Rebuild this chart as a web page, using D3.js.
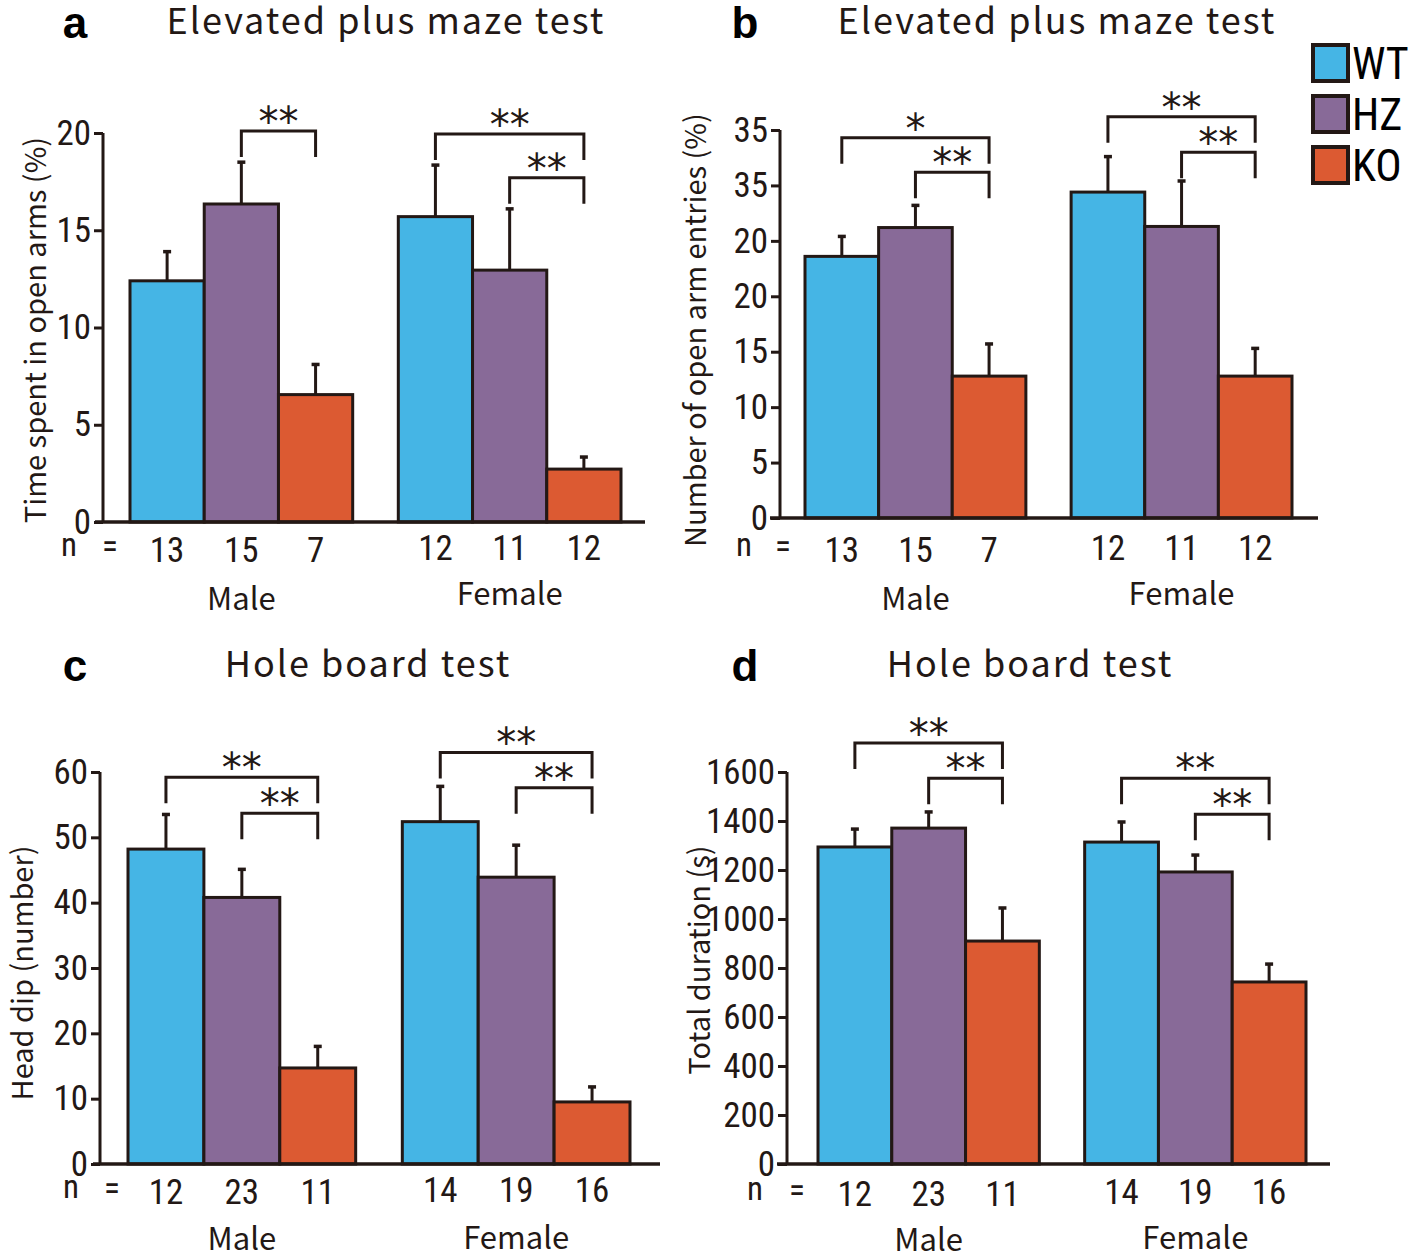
<!DOCTYPE html>
<html lang="en">
<head>
<meta charset="UTF-8">
<title>Elevated plus maze / Hole board test</title>
<script src="https://d3js.org/d3.v7.min.js"></script>
<style>
  body { margin: 0; background: #fff; }
  .num { font-family: "Liberation Sans Narrow", "Roboto Condensed", "DejaVu Sans Condensed", sans-serif; font-stretch: condensed; }
  .gothic { font-family: "Noto Sans CJK JP", "Noto Sans", sans-serif; }
  .star { font-family: "DejaVu Sans", sans-serif; }
</style>
</head>
<body>
<div id="chart"></div>
<script>
// -- données --
const genotypes = ["WT", "HZ", "KO"];
const sexes = ["Male", "Female"];
const colors = ["#45b5e5", "#886a98", "#dc5a32"];

// a : temps passé dans les bras ouverts (%)
const aMale = [12.4, 16.35, 6.55];
const aMaleSem = [1.5, 2.15, 1.55];
const aFemale = [15.7, 12.95, 2.72];
const aFemaleSem = [2.65, 3.15, 0.62];
const aN = [[13, 15, 7], [12, 11, 12]];
const aTicks = [0, 5, 10, 15, 20];
const aTickLabels = ["0", "5", "10", "15", "20"];

// b : nombre d'entrées dans les bras ouverts (%)
const bMale = [23.6, 26.2, 12.8];
const bMaleSem = [1.8, 2.0, 2.9];
const bFemale = [29.4, 26.3, 12.8];
const bFemaleSem = [3.2, 4.1, 2.5];
const bN = [[13, 15, 7], [12, 11, 12]];
const bTicks = [0, 5, 10, 15, 20, 25, 30, 35];
const bTickLabels = ["0", "5", "10", "15", "20", "20", "35", "35"];

// c : head dip
const cMale = [48.2, 40.8, 14.7];
const cMaleSem = [5.3, 4.3, 3.3];
const cFemale = [52.4, 43.9, 9.5];
const cFemaleSem = [5.4, 4.9, 2.3];
const cN = [[12, 23, 11], [14, 19, 16]];
const cTicks = [0, 10, 20, 30, 40, 50, 60];
const cTickLabels = ["0", "10", "20", "30", "40", "50", "60"];

// d : durée totale (s)
const dMale = [1294, 1371, 910];
const dMaleSem = [73, 66, 135];
const dFemale = [1314, 1192, 743];
const dFemaleSem = [82, 69, 73];
const dN = [[12, 23, 11], [14, 19, 16]];
const dTicks = [0, 200, 400, 600, 800, 1000, 1200, 1400, 1600];
const dTickLabels = ["0", "200", "400", "600", "800", "1000", "1200", "1400", "1600"];

// crochets de significativité : [sexe, de, à, niveau, étoiles]
const aBrackets = [["Male", 1, 2, 20.1, "**"], ["Female", 0, 2, 19.95, "**"], ["Female", 1, 2, 17.7, "**"]];
const bBrackets = [["Male", 0, 2, 34.3, "*"], ["Male", 1, 2, 31.2, "**"], ["Female", 0, 2, 36.2, "**"], ["Female", 1, 2, 33.0, "**"]];
const cBrackets = [["Male", 0, 2, 59.2, "**"], ["Male", 1, 2, 53.7, "**"], ["Female", 0, 2, 63.0, "**"], ["Female", 1, 2, 57.6, "**"]];
const dBrackets = [["Male", 0, 2, 1718, "**"], ["Male", 1, 2, 1575, "**"], ["Female", 0, 2, 1575, "**"], ["Female", 1, 2, 1428, "**"]];

const ink = "#231815";
const svg = d3.select("#chart").append("svg")
    .attr("width", 1418).attr("height", 1259);

function panel(o) {
    const g = svg.append("g");
    const y = d3.scaleLinear().domain([0, o.max]).range([o.y0, o.yTop]);
    const xs = d3.scaleBand().domain(sexes).range(o.bars).paddingInner(0.17);
    const xg = d3.scaleBand().domain(genotypes).range([0, xs.bandwidth()]);
    const cx = (s, i) => xs(s) + xg(genotypes[i]) + xg.bandwidth() / 2;

    // lettre + titre
    g.append("text").attr("x", o.letter[0]).attr("y", o.letter[1])
        .attr("font-family", "Liberation Sans, Arial, sans-serif").attr("font-weight", "bold")
        .attr("font-size", 44).attr("fill", "#000").attr("text-anchor", "middle").text(o.letterText);
    g.append("text").attr("class", "gothic").attr("x", o.title[0]).attr("y", o.title[1])
        .attr("font-size", 36).attr("fill", ink).attr("text-anchor", "middle")
        .attr("letter-spacing", 2).text(o.titleText);

    // barres
    const rows = [];
    sexes.forEach((s, si) => {
        const vals = si === 0 ? o.male : o.female;
        const sems = si === 0 ? o.maleSem : o.femaleSem;
        vals.forEach((v, i) => rows.push({ s, i, v, e: sems[i] }));
    });
    g.selectAll("line.err").data(rows).enter().append("line")
        .attr("x1", d => cx(d.s, d.i)).attr("x2", d => cx(d.s, d.i))
        .attr("y1", d => y(d.v)).attr("y2", d => y(d.v + d.e))
        .attr("stroke", ink).attr("stroke-width", 3);
    g.selectAll("line.cap").data(rows).enter().append("line")
        .attr("x1", d => cx(d.s, d.i) - 4).attr("x2", d => cx(d.s, d.i) + 4)
        .attr("y1", d => y(d.v + d.e)).attr("y2", d => y(d.v + d.e))
        .attr("stroke", ink).attr("stroke-width", 3.5);
    g.selectAll("rect.bar").data(rows).enter().append("rect")
        .attr("x", d => xs(d.s) + xg(genotypes[d.i]))
        .attr("y", d => y(d.v))
        .attr("width", xg.bandwidth())
        .attr("height", d => y(0) - y(d.v))
        .attr("fill", d => colors[d.i])
        .attr("stroke", ink).attr("stroke-width", 3);

    // axe y
    const axis = d3.axisLeft(y).tickValues(o.ticks).tickSize(9).tickPadding(3)
        .tickFormat((d, i) => o.tickLabels[i]);
    const ag = g.append("g").attr("transform", `translate(${o.axisX},0)`).call(axis);
    ag.select(".domain").attr("stroke", ink).attr("stroke-width", 3)
        .attr("d", `M0,${o.yTop}V${o.y0}`);
    ag.selectAll(".tick line").attr("stroke", ink).attr("stroke-width", 3);
    ag.selectAll(".tick text").attr("class", "num").attr("font-size", 35).attr("fill", ink);

    // ligne de base
    g.append("line").attr("x1", o.base[0]).attr("x2", o.base[1])
        .attr("y1", y(0)).attr("y2", y(0)).attr("stroke", ink).attr("stroke-width", 3.5);

    // label y
    g.append("text").attr("class", "gothic")
        .attr("transform", `translate(${o.ylab[0]},${o.ylab[1]}) rotate(-90)`)
        .attr("font-size", 29).attr("fill", ink).attr("text-anchor", "middle")
        .attr("dominant-baseline", "central").text(o.ylabText);

    // n =
    g.append("text").attr("class", "num").attr("x", o.nx[0]).attr("y", o.nY + 8)
        .attr("font-size", 33).attr("fill", ink).attr("text-anchor", "middle").text("n");
    g.append("text").attr("class", "num").attr("x", o.nx[1]).attr("y", o.nY + 10)
        .attr("font-size", 33).attr("fill", ink).attr("text-anchor", "middle").text("=");
    sexes.forEach((s, si) => {
        o.n[si].forEach((n, i) => {
            g.append("text").attr("class", "num").attr("x", cx(s, i))
                .attr("y", o.nY + (si === 0 ? 2 : 0))
                .attr("font-size", 35).attr("fill", ink).attr("text-anchor", "middle")
                .attr("dominant-baseline", "central").text(n);
        });
        g.append("text").attr("class", "gothic").attr("x", cx(s, 1)).attr("y", o.sexY[si])
            .attr("font-size", 31).attr("fill", ink).attr("text-anchor", "middle")
            .attr("dominant-baseline", "central").text(s);
    });

    // crochets
    o.brackets.forEach(b => {
        const x1 = cx(b[0], b[1]), x2 = cx(b[0], b[2]), yy = y(b[3]);
        g.append("path").attr("d", `M${x1},${yy + 26}V${yy}H${x2}V${yy + 26}`)
            .attr("fill", "none").attr("stroke", ink).attr("stroke-width", 3);
        g.append("text").attr("class", "star").attr("x", (x1 + x2) / 2).attr("y", yy + 5)
            .attr("font-size", 40).attr("fill", ink).attr("text-anchor", "middle")
            .attr("letter-spacing", 0).text(b[4]);
    });
}

panel({ letterText: "a", letter: [75, 38], titleText: "Elevated plus maze test", title: [386, 34],
    male: aMale, maleSem: aMaleSem, female: aFemale, femaleSem: aFemaleSem, n: aN,
    max: 20, ticks: aTicks, tickLabels: aTickLabels, y0: 522, yTop: 133,
    axisX: 103, bars: [130, 621], base: [95, 645], ylab: [33, 330],
    ylabText: "Time spent in open arms (%)", nx: [69, 110], nY: 548, sexY: [596, 591],
    brackets: aBrackets });

panel({ letterText: "b", letter: [745, 38], titleText: "Elevated plus maze test", title: [1057, 34],
    male: bMale, maleSem: bMaleSem, female: bFemale, femaleSem: bFemaleSem, n: bN,
    max: 35, ticks: bTicks, tickLabels: bTickLabels, y0: 518, yTop: 130,
    axisX: 780, bars: [805, 1292], base: [770, 1318], ylab: [693, 330],
    ylabText: "Number of open arm entries (%)", nx: [744, 783], nY: 548, sexY: [596, 591],
    brackets: bBrackets });

panel({ letterText: "c", letter: [75, 681], titleText: "Hole board test", title: [368, 677],
    male: cMale, maleSem: cMaleSem, female: cFemale, femaleSem: cFemaleSem, n: cN,
    max: 60, ticks: cTicks, tickLabels: cTickLabels, y0: 1164, yTop: 772,
    axisX: 100, bars: [128, 630], base: [93, 660], ylab: [20, 973],
    ylabText: "Head dip (number)", nx: [71, 112], nY: 1190, sexY: [1236, 1235],
    brackets: cBrackets });

panel({ letterText: "d", letter: [745, 681], titleText: "Hole board test", title: [1030, 677],
    male: dMale, maleSem: dMaleSem, female: dFemale, femaleSem: dFemaleSem, n: dN,
    max: 1600, ticks: dTicks, tickLabels: dTickLabels, y0: 1164, yTop: 772,
    axisX: 787, bars: [818, 1306], base: [777, 1330], ylab: [697, 960],
    ylabText: "Total duration (s)", nx: [755, 797], nY: 1192, sexY: [1237, 1235],
    brackets: dBrackets });

// légende
const leg = svg.append("g").attr("transform", "translate(1313,45)");
genotypes.forEach((gt, i) => {
    leg.append("rect").attr("x", 0).attr("y", i * 51).attr("width", 35).attr("height", 36)
        .attr("fill", colors[i]).attr("stroke", ink).attr("stroke-width", 4);
    leg.append("text").attr("class", "num").attr("x", 39).attr("y", i * 51 + 19)
        .attr("font-size", 44).attr("fill", "#000").attr("dominant-baseline", "central").text(gt);
});
</script>
</body>
</html>
